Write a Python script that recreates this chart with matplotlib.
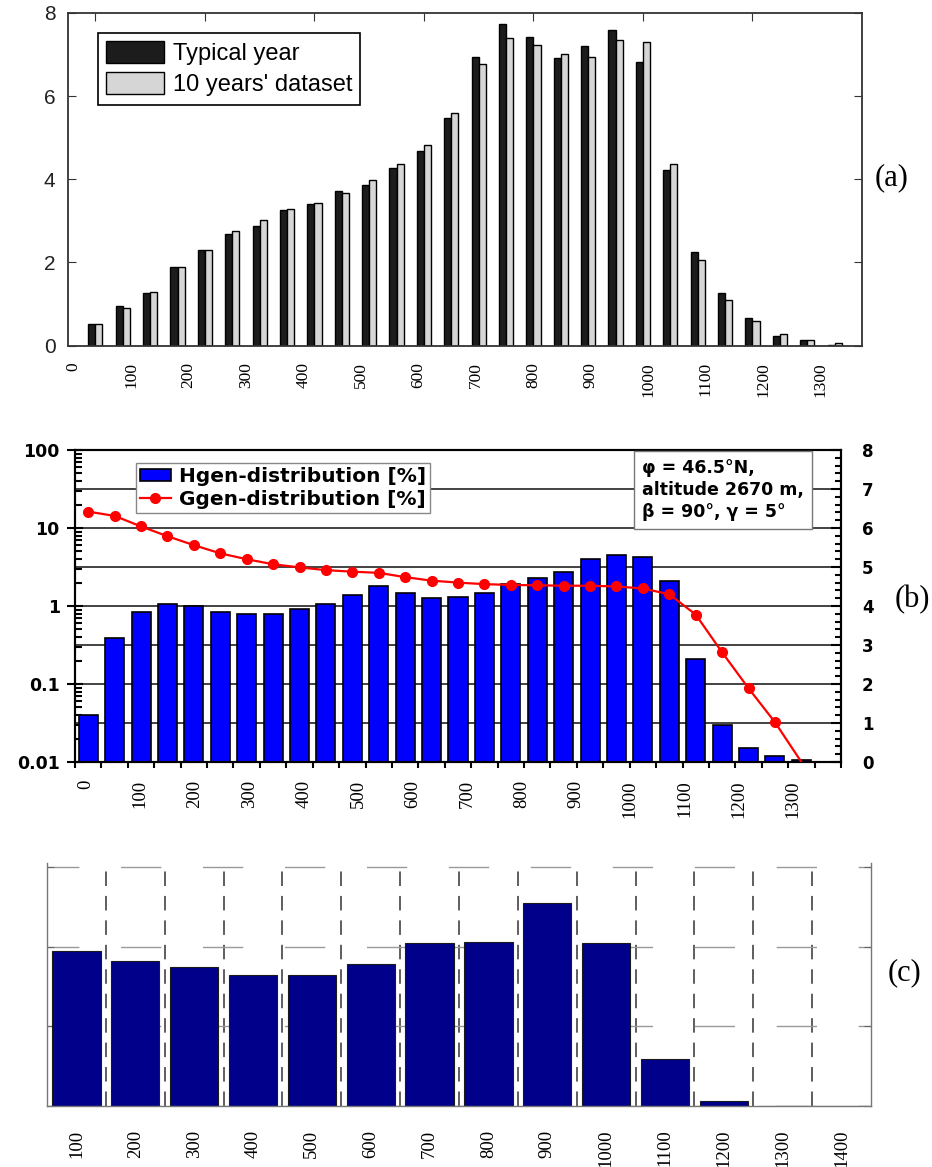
import matplotlib.pyplot as plt
from matplotlib.ticker import MultipleLocator, LogLocator, NullFormatter
from matplotlib.patches import Patch
from matplotlib.lines import Line2D
import numpy as np

# (a) frequency of irradiance bins [%]
bins_a = np.arange(28)
typical_year = [0.52, 0.95, 1.26, 1.88, 2.30, 2.68, 2.87, 3.26, 3.41, 3.71, 3.86, 4.28, 4.68, 5.48,
                6.93, 7.74, 7.43, 6.92, 7.21, 7.59, 6.82, 4.23, 2.25, 1.26, 0.65, 0.23, 0.14, 0.02]
ten_years = [0.52, 0.91, 1.29, 1.88, 2.30, 2.75, 3.01, 3.29, 3.44, 3.68, 3.98, 4.36, 4.82, 5.59,
             6.78, 7.39, 7.23, 7.01, 6.93, 7.36, 7.31, 4.36, 2.06, 1.10, 0.60, 0.27, 0.14, 0.07]
labels_a = [str(v) for v in range(0, 1400, 100)]

# (b) Hgen / Ggen distributions
bin_lo_b = np.arange(0, 1400, 50)
hgen = [0.040, 0.386, 0.845, 1.06, 1.00, 0.83, 0.78, 0.79, 0.92, 1.06, 1.38, 1.80, 1.48, 1.28,
        1.31, 1.48, 1.91, 2.31, 2.70, 3.97, 4.51, 4.29, 2.09, 0.21, 0.030, 0.015, 0.012, 0.0106]
ggen = [6.42, 6.31, 6.04, 5.79, 5.56, 5.35, 5.20, 5.07, 4.99, 4.92, 4.88, 4.85, 4.74, 4.65,
        4.60, 4.56, 4.54, 4.53, 4.52, 4.52, 4.50, 4.45, 4.30, 3.78, 2.81, 1.89, 1.02, 0.0]
labels_b = [str(v) for v in range(0, 1500, 100)]

# (c)
labels_c = [str(v) for v in range(100, 1500, 100)]
vals_c = [1.945, 1.823, 1.74, 1.64, 1.64, 1.78, 2.04, 2.06, 2.55, 2.04, 0.59, 0.067, 0, 0]

SERIF = "Liberation Serif"
SANS = "Liberation Sans"
W, H = 932, 1167


def rect(left, top, right, bottom):
    return [left / W, 1 - bottom / H, (right - left) / W, (bottom - top) / H]


fig = plt.figure(figsize=(W / 100, H / 100), dpi=100)

# ---------------- (a)
ax_a = fig.add_axes(rect(68, 13, 862, 345.5))
w = 0.26
ax_a.bar(bins_a - w / 2, typical_year, w, color="#1c1c1c", edgecolor="black", linewidth=1.0,
         label="Typical year")
ax_a.bar(bins_a + w / 2, ten_years, w, color="#d6d6d6", edgecolor="black", linewidth=1.0,
         label="10 years' dataset")
ax_a.set_xlim(-1, 28)
ax_a.set_ylim(0, 8)
ax_a.set_xticks(range(0, 25, 4))
ax_a.tick_params(axis="x", top=True, bottom=False, labelbottom=False, direction="in", length=6,
                 color="#333")
ax_a.set_yticks([0, 2, 4, 6, 8])
ax_a.tick_params(axis="y", left=True, right=True, direction="in", length=6, pad=9,
                 labelsize=15, labelcolor="#222", color="#333")
for lab in ax_a.get_yticklabels():
    lab.set_fontfamily(SANS)
for sp in ax_a.spines.values():
    sp.set_color("#333")
    sp.set_linewidth(1.3)

sec_a = ax_a.secondary_xaxis("bottom")
sec_a.set_xticks([-0.80 + 2.10 * k for k in range(len(labels_a))], labels_a)
sec_a.tick_params(length=0, pad=12, labelsize=12.5, labelrotation=90)
sec_a.spines["bottom"].set_visible(False)
for lab in sec_a.get_xticklabels():
    lab.set_fontfamily(SERIF)

leg_a = ax_a.legend(loc="upper left", bbox_to_anchor=(0.038, 0.94), prop={"family": SANS, "size": 17},
                    handlelength=2.45, handleheight=1.05, handletextpad=0.35, labelspacing=0.3,
                    borderpad=0.35, borderaxespad=0, fancybox=False, edgecolor="black", framealpha=1)
leg_a.get_frame().set_linewidth(1.2)
fig.text(875 / W, 1 - 178 / H, "(a)", family=SERIF, fontsize=22, va="center", ha="left")

# ---------------- (b)
ax_b = fig.add_axes(rect(75, 450, 841, 762))
ax_b2 = ax_b.twinx()
centres_b = bin_lo_b + 25
ax_b.set_yscale("log")
ax_b.set_ylim(0.01, 100)
ax_b.set_xlim(0, 1450)
# grid follows the right-hand axis (one line per unit)
for v in range(1, 8):
    ax_b.axhline(10 ** (-2 + v / 2), color="#222", lw=1.2, zorder=1)
ax_b.bar(centres_b, hgen, width=36, color="#0000ff", edgecolor="black", linewidth=1.2, zorder=2)

ax_b.set_yticks([0.01, 0.1, 1, 10, 100], ["0.01", "0.1", "1", "10", "100"])
ax_b.yaxis.set_minor_locator(LogLocator(base=10, subs=np.arange(2, 10)))
ax_b.yaxis.set_minor_formatter(NullFormatter())
ax_b.tick_params(axis="y", which="major", direction="inout", length=12, width=1.5, pad=5,
                 labelsize=12.5)
ax_b.tick_params(axis="y", which="minor", direction="in", length=5, width=1.5)
for lab in ax_b.get_yticklabels():
    lab.set_fontweight("bold")

ax_b.set_xticks(np.arange(0, 1451, 50))
ax_b.tick_params(axis="x", direction="out", length=4, width=1.5, labelbottom=False)
for sp in ax_b.spines.values():
    sp.set_linewidth(1.5)

sec_b = ax_b.secondary_xaxis("bottom")
sec_b.set_xticks([20.8 + 103.0 * k for k in range(len(labels_b))], labels_b)
sec_b.tick_params(length=0, pad=13, labelsize=13.5, labelrotation=90)
sec_b.spines["bottom"].set_visible(False)
for lab in sec_b.get_xticklabels():
    lab.set_fontfamily(SERIF)

ax_b2.plot(centres_b, ggen, color="red", lw=1.6, marker="o", ms=7, markevery=list(range(27)), zorder=3)
ax_b2.set_ylim(0, 8)
ax_b2.set_yticks(range(9))
ax_b2.yaxis.set_minor_locator(MultipleLocator(0.2))
ax_b2.tick_params(axis="y", which="major", direction="in", length=7, width=1.5, pad=15, labelsize=12)
ax_b2.tick_params(axis="y", which="minor", direction="in", length=4, width=1.5)
for lab in ax_b2.get_yticklabels():
    lab.set_fontweight("bold")
for sp in ax_b2.spines.values():
    sp.set_linewidth(1.5)

handles_b = [Patch(facecolor="#0000ff", edgecolor="black", linewidth=1.2),
             Line2D([], [], color="red", lw=1.6, marker="o", ms=7)]
leg_b = ax_b2.legend(handles_b, ["Hgen-distribution [%]", "Ggen-distribution [%]"],
                     loc="upper left", bbox_to_anchor=(0.08, 0.958),
                     prop={"weight": "bold", "size": 14.5}, handlelength=1.5, handleheight=0.55,
                     handletextpad=0.4, labelspacing=0.18, borderpad=0.2, borderaxespad=0,
                     fancybox=False, edgecolor="#888", framealpha=1)
leg_b.get_frame().set_linewidth(1.0)

ax_b2.text(0.740, 0.972, "\u03c6 = 46.5\u00b0N,\naltitude 2670 m,\n\u03b2 = 90\u00b0, \u03b3 = 5\u00b0",
           transform=ax_b2.transAxes, ha="left", va="top", fontsize=12.5, fontweight="bold",
           linespacing=1.3, zorder=5,
           bbox=dict(boxstyle="square,pad=0.45", fc="white", ec="#777", lw=1))
fig.text(895 / W, 1 - 600 / H, "(b)", family=SERIF, fontsize=22, va="center", ha="left")

# ---------------- (c)
ax_c = fig.add_axes(rect(47, 863, 871, 1106))
pos_c = np.arange(1, len(labels_c) + 1)
ax_c.bar(pos_c, vals_c, width=0.82, color="#00008b", edgecolor="#1a1a1a", linewidth=0.8, zorder=2)
ax_c.set_xlim(0.5, 14.5)
ax_c.set_ylim(0, 3.05)
ax_c.set_axisbelow(True)
ax_c.set_yticks([0, 1, 2, 3], [])
ax_c.yaxis.grid(True, color="#999", lw=1.0, linestyle=(6, (29, 30)))
ax_c.set_xticks(pos_c, labels_c)
ax_c.set_xticks(np.arange(1.5, 14, 1), minor=True)
ax_c.xaxis.grid(True, which="minor", color="#333", lw=1.1, linestyle=(0, (9.5, 6.5)))
ax_c.tick_params(axis="x", which="both", length=0, pad=17, labelsize=13.5, labelrotation=90)
ax_c.tick_params(axis="y", left=True, right=True, direction="in", length=5, color="#666")
for lab in ax_c.get_xticklabels():
    lab.set_fontfamily(SERIF)
ax_c.spines["top"].set_visible(False)
for name in ["left", "right", "bottom"]:
    ax_c.spines[name].set_color("#777")
    ax_c.spines[name].set_linewidth(1.0)
fig.text(888 / W, 1 - 973 / H, "(c)", family=SERIF, fontsize=22, va="center", ha="left")

fig.savefig("out.png", dpi=100)
